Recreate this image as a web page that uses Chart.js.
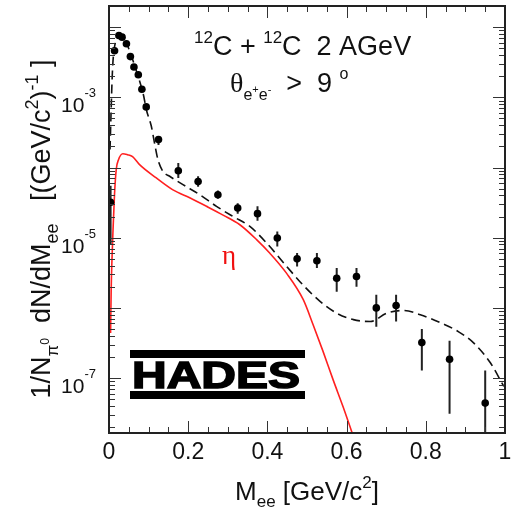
<!DOCTYPE html>
<html>
<head>
<meta charset="utf-8">
<script src="https://cdn.jsdelivr.net/npm/chart.js@4.4.0/dist/chart.umd.min.js"></script>
<style>
  html, body { margin: 0; padding: 0; background: #fff; }
</style>
</head>
<body>
<canvas id="chart" width="518" height="508"></canvas>
<script>
// HADES data points, 12C + 12C at 2 AGeV
const dataMass = [0.004, 0.014, 0.025, 0.033, 0.044, 0.054, 0.063, 0.074, 0.083, 0.094,
    0.125, 0.175, 0.225, 0.275, 0.325, 0.375, 0.425, 0.475, 0.525, 0.575, 0.625, 0.675,
    0.725, 0.79, 0.86, 0.95];
const dataYield = [3.2e-5, 4.6e-3, 7.6e-3, 7.2e-3, 5.8e-3, 3.8e-3, 2.7e-3, 2.1e-3, 1.3e-3, 7.3e-4,
    2.5e-4, 9.0e-5, 6.3e-5, 4.1e-5, 2.65e-5, 2.2e-5, 9.9e-6, 5.0e-6, 4.7e-6, 2.65e-6, 2.8e-6, 1.0e-6,
    1.08e-6, 3.2e-7, 1.85e-7, 4.4e-8];
const errLow = [7.9e-6, 4.3e-3, 7.1e-3, 6.7e-3, 5.4e-3, 3.5e-3, 2.5e-3, 1.95e-3, 1.2e-3, 6.7e-4,
    2.1e-4, 7.1e-5, 5.3e-5, 3.6e-5, 2.2e-5, 1.75e-5, 7.5e-6, 3.9e-6, 3.7e-6, 1.7e-6, 2.0e-6, 5.4e-7,
    6.4e-7, 1.28e-7, 3.1e-8, 1.0e-8];
const errHigh = [5.5e-5, 4.9e-3, 8.1e-3, 7.7e-3, 6.2e-3, 4.1e-3, 2.9e-3, 2.25e-3, 1.4e-3, 7.9e-4,
    2.8e-4, 1.16e-4, 7.5e-5, 4.7e-5, 3.1e-5, 2.8e-5, 1.23e-5, 6.05e-6, 6.05e-6, 3.7e-6, 3.7e-6, 1.54e-6,
    1.54e-6, 5.0e-7, 3.4e-7, 1.28e-7];

// cocktail (dashed)
const cocktailMass = [0.0025, 0.0089, 0.0165, 0.0266, 0.039, 0.0544, 0.0722, 0.0873, 0.0942, 0.1068,
    0.1152, 0.1235, 0.1362, 0.1532, 0.1868, 0.2291, 0.2714, 0.3134, 0.3557, 0.398, 0.4486, 0.4906,
    0.5329, 0.5752, 0.6172, 0.6595, 0.7018, 0.7438, 0.786, 0.844, 0.882, 0.92, 0.963, 0.997];
const cocktailYield = [1.8e-4, 2.5e-3, 6.2e-3, 7.8e-3, 6.9e-3, 4.2e-3, 2.1e-3, 1.06e-3, 6.7e-4, 3.9e-4,
    2.2e-4, 1.3e-4, 8.8e-5, 7.5e-5, 5.7e-5, 4.1e-5, 2.8e-5, 2.0e-5, 1.45e-5, 8.4e-6, 3.9e-6, 2.1e-6,
    1.24e-6, 8.4e-7, 6.8e-7, 6.4e-7, 8.4e-7, 9.2e-7, 8.0e-7, 5.9e-7, 4.6e-7, 3.2e-7, 1.65e-7, 7.6e-8];

// eta Dalitz contribution (red)
const etaMass = [0.004, 0.0055, 0.0075, 0.0102, 0.0139, 0.0182, 0.024, 0.0349, 0.0468, 0.0595,
    0.0772, 0.1195, 0.1615, 0.2038, 0.2461, 0.2881, 0.3304, 0.3727, 0.4063, 0.4486, 0.4906, 0.5152,
    0.5405, 0.5658, 0.5911, 0.6139, 0.625];
const etaYield = [4.4e-7, 1.8e-6, 4.9e-6, 1.3e-5, 4.1e-5, 9.3e-5, 1.29e-4, 1.57e-4, 1.52e-4, 1.43e-4,
    1.1e-4, 7.1e-5, 4.8e-5, 3.7e-5, 2.8e-5, 2.1e-5, 1.53e-5, 9.4e-6, 6.0e-6, 3.1e-6, 1.31e-6, 5.8e-7,
    2.4e-7, 9.5e-8, 3.9e-8, 1.66e-8, 1.1e-8];

// axis labels
const xTickValues = [0, 0.2, 0.4, 0.6, 0.8, 1];
const xTickLabels = ['0', '0.2', '0.4', '0.6', '0.8', '1'];
const yLabelExps = [-3, -5, -7];

const SANS = "'Liberation Sans', Arial, sans-serif";
const SERIF = "'Liberation Serif', 'Times New Roman', serif";

// error bars as separate segments, broken by nulls
const errorSegments = [];
dataMass.forEach((m, i) => {
    errorSegments.push({ x: m, y: errLow[i] }, { x: m, y: errHigh[i] }, { x: m, y: null });
});

// draw text made of pieces (sub/superscripts)
function drawRich(ctx, parts, x, y, size, align) {
    let total = 0;
    parts.forEach(p => {
        ctx.font = Math.round(size * (p.s || 1)) + 'px ' + (p.f || SANS);
        p.w = ctx.measureText(p.t).width;
        total += p.w;
    });
    let cx = align === 'center' ? x - total / 2 : align === 'right' ? x - total : x;
    parts.forEach(p => {
        ctx.font = Math.round(size * (p.s || 1)) + 'px ' + (p.f || SANS);
        ctx.fillText(p.t, cx, y + (p.dy || 0) * size);
        cx += p.w;
    });
}

const decorations = {
    id: 'decorations',
    afterDraw(chart) {
        const ctx = chart.ctx;
        const ca = chart.chartArea;
        const xs = chart.scales.x, ys = chart.scales.y;
        ctx.save();
        ctx.textAlign = 'left';
        ctx.textBaseline = 'alphabetic';

        // ticks, inside the frame
        ctx.strokeStyle = '#333';
        ctx.lineWidth = 1;
        ctx.beginPath();
        for (let k = 0; k <= 20; k++) {
            const px = Math.round(xs.getPixelForValue(k * 0.05)) + 0.5;
            const len = k % 4 === 0 ? 12 : 6;
            ctx.moveTo(px, ca.bottom); ctx.lineTo(px, ca.bottom - len);
            ctx.moveTo(px, ca.top); ctx.lineTo(px, ca.top + len);
        }
        for (let e = -8; e <= -2; e++) {
            for (let m = 1; m <= 9; m++) {
                const v = m * Math.pow(10, e);
                if (v < ys.min || v > ys.max) continue;
                const py = Math.round(ys.getPixelForValue(v)) + 0.5;
                const len = m === 1 ? 12 : 6;
                ctx.moveTo(ca.left, py); ctx.lineTo(ca.left + len, py);
                ctx.moveTo(ca.right, py); ctx.lineTo(ca.right - len, py);
            }
        }
        ctx.stroke();

        // frame
        ctx.strokeStyle = '#222';
        ctx.lineWidth = 2;
        ctx.strokeRect(ca.left, ca.top, ca.right - ca.left, ca.bottom - ca.top);

        ctx.fillStyle = '#111';
        // x tick labels
        ctx.font = '23px ' + SANS;
        ctx.textAlign = 'center';
        xTickValues.forEach((v, i) => {
            ctx.fillText(xTickLabels[i], xs.getPixelForValue(v), 459);
        });
        ctx.textAlign = 'left';

        // y tick labels 10^n
        yLabelExps.forEach(e => {
            const py = ys.getPixelForValue(Math.pow(10, e));
            drawRich(ctx, [{ t: '10' }, { t: '-' + Math.abs(e), s: 0.62, dy: -0.72 }], 96, py + 15, 21, 'right');
        });

        // x title
        drawRich(ctx, [{ t: 'M' }, { t: 'ee', s: 0.65, dy: 0.28 }, { t: ' [GeV/c' },
            { t: '2', s: 0.65, dy: -0.45 }, { t: ']' }], 307, 500, 26, 'center');

        // y title
        ctx.save();
        ctx.translate(50, 229);
        ctx.rotate(-Math.PI / 2);
        drawRich(ctx, [{ t: '1/N' }, { t: 'π', s: 0.62, dy: 0.3 }, { t: '0', s: 0.45, dy: -0.05 },
            { t: '  dN/dM' }, { t: 'ee', s: 0.65, dy: 0.28 }, { t: '   [(GeV/c' },
            { t: '2', s: 0.65, dy: -0.45 }, { t: ')' }, { t: '-1', s: 0.65, dy: -0.45 }, { t: ' ]' }],
            0, 0, 27, 'center');
        ctx.restore();

        // annotations
        drawRich(ctx, [{ t: '12', s: 0.62, dy: -0.45 }, { t: 'C + ' }, { t: '12', s: 0.62, dy: -0.45 },
            { t: 'C  2 AGeV' }], 194, 55, 27, 'left');
        drawRich(ctx, [{ t: 'θ', f: SERIF, s: 1.05 }, { t: 'e', s: 0.6, dy: 0.3 }, { t: '+', s: 0.42, dy: 0.05 },
            { t: 'e', s: 0.6, dy: 0.3 }, { t: '-', s: 0.42, dy: 0.05 }, { t: '  >  9 ' },
            { t: 'o', s: 0.6, dy: -0.5 }], 230, 92, 27, 'left');

        ctx.fillStyle = '#f01010';
        ctx.font = '27px ' + SERIF;
        ctx.fillText('η', 222, 264);

        // HADES logo
        ctx.fillStyle = '#000';
        ctx.strokeStyle = '#000';
        ctx.fillRect(130, 350, 175, 8);
        ctx.fillRect(130, 391, 175, 8);
        ctx.font = 'bold 37px ' + SANS;
        const w = ctx.measureText('HADES').width;
        ctx.save();
        ctx.translate(132, 388);
        ctx.scale(168 / w, 1);
        ctx.lineWidth = 1.5;
        ctx.fillText('HADES', 0, 0);
        ctx.strokeText('HADES', 0, 0);
        ctx.restore();

        ctx.restore();
    }
};

const ctx = document.getElementById('chart').getContext('2d');
const chart = new Chart(ctx, {
    type: 'scatter',
    data: {
        datasets: [{
            label: 'data',
            data: dataMass.map((m, i) => ({ x: m, y: dataYield[i] })),
            pointRadius: 3.8,
            pointBackgroundColor: '#000',
            pointBorderColor: '#000',
            pointBorderWidth: 0,
            showLine: false,
            order: 0
        }, {
            label: 'errors',
            data: errorSegments,
            showLine: true,
            spanGaps: false,
            borderColor: '#222',
            borderWidth: 2,
            pointRadius: 0,
            order: 1
        }, {
            label: 'cocktail',
            data: cocktailMass.map((m, i) => ({ x: m, y: cocktailYield[i] })),
            showLine: true,
            borderColor: '#111',
            borderWidth: 1.6,
            borderDash: [9, 5],
            pointRadius: 0,
            cubicInterpolationMode: 'monotone',
            order: 2
        }, {
            label: 'eta',
            data: etaMass.map((m, i) => ({ x: m, y: etaYield[i] })),
            showLine: true,
            borderColor: '#ff2020',
            borderWidth: 1.6,
            pointRadius: 0,
            cubicInterpolationMode: 'monotone',
            order: 3
        }]
    },
    options: {
        responsive: false,
        animation: false,
        layout: { padding: { left: 109, right: 13, top: 6, bottom: 75 } },
        plugins: { legend: { display: false }, tooltip: { enabled: false } },
        scales: {
            x: { type: 'linear', min: 0, max: 1, display: false },
            y: { type: 'logarithmic', min: 1.65e-8, max: 2.0e-2, display: false }
        }
    },
    plugins: [decorations]
});
</script>
</body>
</html>
